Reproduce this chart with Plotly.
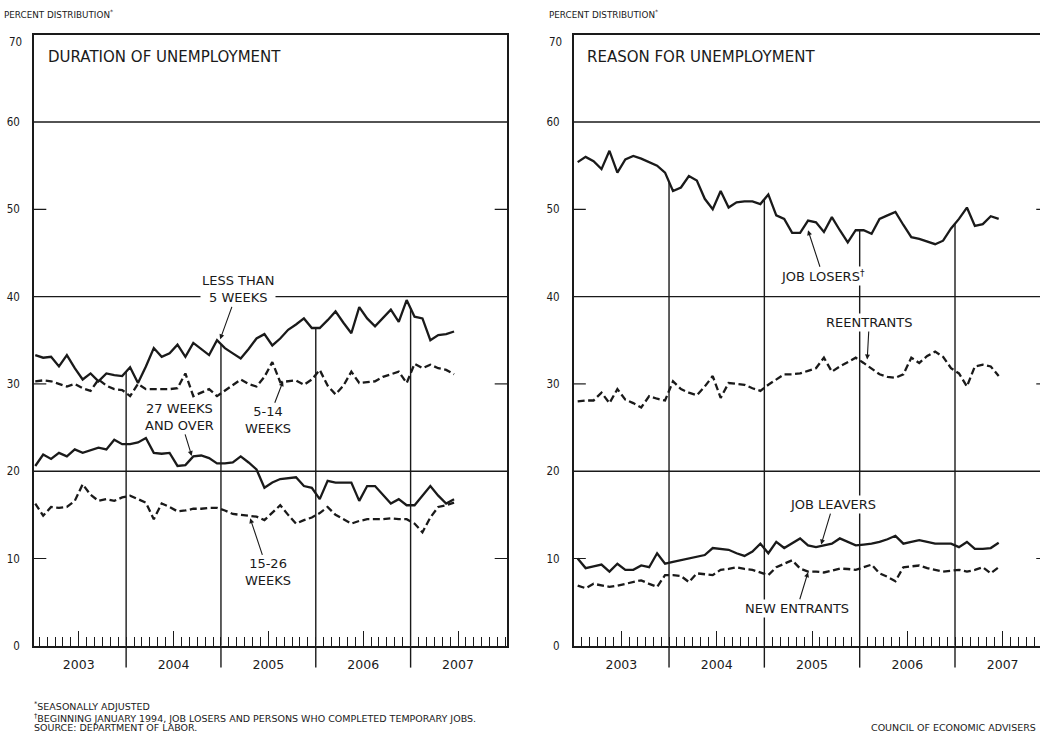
import numpy as np
import pandas as pd
import plotly.graph_objects as go

# ---------------- data (percent distribution, seasonally adjusted) ----------------
months = pd.date_range("2003-01-01", "2007-06-01", freq="MS")
years = ["2003", "2004", "2005", "2006", "2007"]

less_than_5 = [33.3, 33.0, 33.1, 32.0, 33.3, 31.8, 30.5, 31.2, 30.3, 31.2, 31.0, 30.9,
               31.9, 30.1, 32.0, 34.1, 33.1, 33.5, 34.5, 33.1, 34.7, 34.0, 33.3, 35.0,
               34.1, 33.5, 32.9, 34.0, 35.2, 35.7, 34.4, 35.2, 36.2, 36.8, 37.5, 36.4,
               36.4, 37.3, 38.3, 37.0, 35.8, 38.8, 37.5, 36.6, 37.5, 38.5, 37.1, 39.6,
               37.7, 37.5, 35.0, 35.6, 35.7, 36.0]
weeks_5_14 = [30.3, 30.4, 30.3, 30.0, 29.7, 30.0, 29.5, 29.2, 30.5, 29.8, 29.4, 29.3,
              28.6, 30.0, 29.4, 29.4, 29.4, 29.4, 29.5, 31.2, 28.6, 29.0, 29.4, 28.6,
              29.2, 29.9, 30.5, 30.0, 29.7, 30.8, 32.5, 30.2, 30.3, 30.4, 29.9, 30.5,
              31.6, 29.8, 28.8, 29.8, 31.4, 30.1, 30.2, 30.3, 30.8, 31.1, 31.4, 30.1,
              32.3, 31.8, 32.2, 31.8, 31.6, 31.1]
weeks_15_26 = [16.3, 14.9, 15.9, 15.8, 15.9, 16.6, 18.5, 17.3, 16.6, 16.8, 16.6, 17.0,
               17.2, 16.8, 16.4, 14.5, 16.3, 15.9, 15.4, 15.5, 15.7, 15.7, 15.8, 15.8,
               15.5, 15.1, 15.0, 14.9, 14.8, 14.4, 15.2, 16.1, 15.0, 14.0, 14.4, 14.7,
               15.2, 15.9, 15.0, 14.5, 14.0, 14.3, 14.5, 14.5, 14.5, 14.6, 14.5, 14.5,
               14.0, 13.0, 14.7, 15.9, 16.1, 16.4]
weeks_27_over = [20.6, 21.9, 21.4, 22.1, 21.7, 22.5, 22.1, 22.4, 22.7, 22.5, 23.6, 23.1,
                 23.1, 23.3, 23.8, 22.1, 22.0, 22.1, 20.6, 20.7, 21.7, 21.8, 21.5, 20.9,
                 20.9, 21.0, 21.7, 21.0, 20.2, 18.1, 18.7, 19.1, 19.2, 19.3, 18.3, 18.1,
                 16.8, 18.9, 18.7, 18.7, 18.7, 16.6, 18.3, 18.3, 17.3, 16.3, 16.8, 16.1,
                 16.1, 17.2, 18.3, 17.2, 16.3, 16.8]

job_losers = [55.4, 56.0, 55.5, 54.6, 56.7, 54.2, 55.7, 56.1, 55.8, 55.4, 55.0, 54.2,
              52.1, 52.5, 53.8, 53.3, 51.2, 50.0, 52.1, 50.2, 50.8, 50.9, 50.9, 50.6,
              51.7, 49.3, 48.9, 47.3, 47.3, 48.7, 48.5, 47.4, 49.1, 47.6, 46.2, 47.6,
              47.6, 47.2, 48.9, 49.3, 49.7, 48.2, 46.8, 46.6, 46.3, 46.0, 46.4, 47.8,
              48.9, 50.2, 48.1, 48.3, 49.2, 48.9]
reentrants = [28.0, 28.1, 28.1, 29.0, 27.8, 29.4, 28.2, 27.8, 27.3, 28.6, 28.3, 28.1,
              30.3, 29.4, 29.0, 28.7, 29.7, 30.9, 28.4, 30.1, 30.0, 29.9, 29.5, 29.2,
              29.9, 30.5, 31.1, 31.1, 31.2, 31.5, 31.8, 33.0, 31.4, 32.0, 32.5, 33.0,
              32.4, 31.8, 31.1, 30.8, 30.7, 31.1, 33.0, 32.4, 33.2, 33.7, 33.1, 31.8,
              31.2, 29.7, 32.0, 32.2, 32.0, 30.9]
job_leavers = [10.0, 8.9, 9.1, 9.3, 8.5, 9.4, 8.7, 8.7, 9.2, 9.0, 10.6, 9.4,
               9.6, 9.8, 10.0, 10.2, 10.4, 11.2, 11.1, 11.0, 10.6, 10.3, 10.8, 11.7,
               10.6, 11.9, 11.2, 11.8, 12.3, 11.5, 11.3, 11.5, 11.7, 12.3, 11.9, 11.5,
               11.6, 11.7, 11.9, 12.2, 12.6, 11.7, 11.9, 12.1, 11.9, 11.7, 11.7, 11.7,
               11.3, 11.9, 11.1, 11.1, 11.2, 11.8]
new_entrants = [6.9, 6.6, 7.1, 6.9, 6.75, 6.9, 7.1, 7.3, 7.5, 7.1, 6.75, 8.1,
                8.1, 8.0, 7.3, 8.3, 8.2, 8.1, 8.7, 8.8, 9.0, 8.8, 8.7, 8.4,
                8.1, 9.0, 9.4, 9.8, 8.85, 8.5, 8.5, 8.4, 8.6, 8.85, 8.8, 8.7,
                9.0, 9.3, 8.3, 7.9, 7.4, 9.0, 9.1, 9.2, 8.9, 8.7, 8.5, 8.6,
                8.7, 8.5, 8.7, 9.0, 8.3, 9.0]

y_ticks = [0, 10, 20, 30, 40, 50, 60]
y_top_label = "70"

# x position: months since Jan 2003, plotted at mid-month
x = np.asarray((months.year - 2003) * 12 + months.month - 1, dtype=float) + 0.5

# ---------------- styling ----------------
W, H = 1040, 738
INK = "#1a1a1a"
FONT = "DejaVu Sans"
NARROW = "DejaVu Sans Condensed, Liberation Sans Narrow, Roboto Condensed, DejaVu Sans"
YDOM = [1 - 652 / H, 1 - 35 / H]
XDOM1 = [34 / W, 507 / W]
XDOM2 = [573.7 / W, 1.0]
SOLID = dict(color=INK, width=2.3)
DASH = dict(color=INK, width=2.3, dash="7px,3.5px")

fig = go.Figure()
for s, ln in [(less_than_5, SOLID), (weeks_5_14, DASH), (weeks_27_over, SOLID), (weeks_15_26, DASH)]:
    fig.add_trace(go.Scatter(x=x, y=s, mode="lines", line=ln, xaxis="x", yaxis="y",
                             showlegend=False, hoverinfo="skip"))
for s, ln in [(job_losers, SOLID), (reentrants, DASH), (job_leavers, SOLID), (new_entrants, DASH)]:
    fig.add_trace(go.Scatter(x=x, y=s, mode="lines", line=ln, xaxis="x2", yaxis="y2",
                             showlegend=False, hoverinfo="skip"))

def xaxis(dom, rng):
    return dict(domain=dom, range=rng, showgrid=False, zeroline=False,
                showline=True, mirror=True, linecolor=INK, linewidth=1.5,
                tickmode="array", tickvals=[6, 18, 30, 42, 54], ticktext=years,
                ticks="inside", ticklen=15, tickwidth=1.2, tickcolor=INK,
                minor=dict(ticks="inside", tickmode="linear", tick0=0, dtick=1,
                           ticklen=9, tickwidth=1, tickcolor=INK),
                tickfont=dict(family=FONT, size=12.5, color=INK),
                ticklabelstandoff=6, fixedrange=True)

def yaxis(anchor, mirror):
    return dict(domain=YDOM, range=[0, 70], anchor=anchor, showgrid=False, zeroline=False,
                showline=True, mirror=mirror, linecolor=INK, linewidth=1.5,
                tickmode="array", tickvals=y_ticks, ticks="",
                tickfont=dict(family=NARROW, size=11.5, color=INK),
                ticklabelstandoff=10, fixedrange=True)

fig.update_layout(
    width=W, height=H, margin=dict(l=0, r=0, t=0, b=0),
    paper_bgcolor="white", plot_bgcolor="white",
    xaxis=xaxis(XDOM1, [0.34, 60.2]) | dict(anchor="y"),
    yaxis=yaxis("x", True),
    xaxis2=xaxis(XDOM2, [0.0, 58.7]) | dict(anchor="y2", mirror=True),
    yaxis2=yaxis("x2", False),
)

shapes = []
below = 22 / H
for xa, ya, series in [("x", "y", [less_than_5, weeks_5_14, weeks_27_over, weeks_15_26]),
                       ("x2", "y2", [job_losers, reentrants, job_leavers, new_entrants])]:
    for v in (20, 40, 60):
        shapes.append(dict(type="line", xref=f"{xa} domain", yref=ya, x0=0, x1=1, y0=v, y1=v,
                           line=dict(color=INK, width=1.4), layer="below"))
    for v in (10, 30, 50):
        shapes.append(dict(type="line", xref=f"{xa} domain", yref=ya, x0=0, x1=0.026, y0=v, y1=v,
                           line=dict(color=INK, width=1.2)))
        shapes.append(dict(type="line", xref=f"{xa} domain", yref=ya,
                           x0=1 - (0.026 if xa == "x" else 0.008), x1=1, y0=v, y1=v,
                           line=dict(color=INK, width=1.2)))
    for b in (12, 24, 36, 48):
        top = max(float(np.interp(b, x, s)) for s in series)
        shapes.append(dict(type="line", xref=xa, yref=ya, x0=b, x1=b, y0=0, y1=top,
                           line=dict(color=INK, width=1.4), layer="below"))
        shapes.append(dict(type="line", xref=xa, yref="paper", x0=b, x1=b,
                           y0=YDOM[0] - below, y1=YDOM[0],
                           line=dict(color=INK, width=1.4)))
fig.update_layout(shapes=shapes)

ann = []
LBL = dict(family=FONT, size=13, color=INK)

def label(xa, ya, text, mx, vy, ax, ay):
    # arrow head at (mx, vy) on the series; the label sits at pixel offset (ax, ay)
    ann.append(dict(xref=xa, yref=ya, x=mx, y=vy, text=text, showarrow=True,
                    ax=ax, ay=ay, arrowhead=2, arrowsize=0.9, arrowwidth=1.1,
                    arrowcolor=INK, standoff=0, font=LBL, bgcolor="white",
                    borderpad=1, align="center"))

# left panel labels
label("x", "y", "LESS THAN<br>5 WEEKS", 23.9, 35.1, 18, -50)
label("x", "y", "27 WEEKS<br>AND OVER", 20.3, 21.75, -12, -39)
label("x", "y", "5-14<br>WEEKS", 31.86, 30.3, -15, 39)
label("x", "y", "15-26<br>WEEKS", 27.7, 14.6, 18, 54)

# right panel labels
label("x2", "y2", "JOB LOSERS<sup>†</sup>", 29.5, 47.6, 15, 46)
label("x2", "y2", "REENTRANTS", 36.95, 32.8, 2, -37)
label("x2", "y2", "JOB LEAVERS", 31.15, 11.6, 12, -40)
label("x2", "y2", "NEW ENTRANTS", 29.5, 8.43, -11, 36)

# top value label of each y axis sits just inside the frame top
for xa, ya in [("x", "y"), ("x2", "y2")]:
    ann.append(dict(xref=f"{xa} domain", yref=ya, x=0, y=70, text=y_top_label,
                    showarrow=False, xanchor="right", yanchor="middle",
                    xshift=-10, yshift=-7, font=dict(family=NARROW, size=11.5, color=INK)))

def ptext(text, px, py, size, family=FONT, xanchor="left"):
    ann.append(dict(xref="paper", yref="paper", x=px / W, y=1 - py / H, text=text,
                    showarrow=False, xanchor=xanchor, yanchor="middle",
                    font=dict(family=family, size=size, color=INK)))

ptext("PERCENT DISTRIBUTION<sup>*</sup>", 2, 14, 8.8)
ptext("PERCENT DISTRIBUTION<sup>*</sup>", 547, 14, 8.8)
ptext("DURATION OF UNEMPLOYMENT", 46, 58, 15)
ptext("REASON FOR UNEMPLOYMENT", 585, 58, 15)
ptext("<sup>*</sup>SEASONALLY ADJUSTED", 32, 713, 9.5)
ptext("<sup>†</sup>BEGINNING JANUARY 1994, JOB LOSERS AND PERSONS WHO COMPLETED TEMPORARY JOBS.",
      32, 724.5, 9.5)
ptext("SOURCE: DEPARTMENT OF LABOR.", 32, 734.5, 9.5)
ptext("COUNCIL OF ECONOMIC ADVISERS", 1038, 734.5, 9.5, xanchor="right")

fig.update_layout(annotations=ann)

fig.write_html("out.html", config={"displayModeBar": False},
               post_script="document.body.style.margin='0';document.body.style.overflow='hidden';")
